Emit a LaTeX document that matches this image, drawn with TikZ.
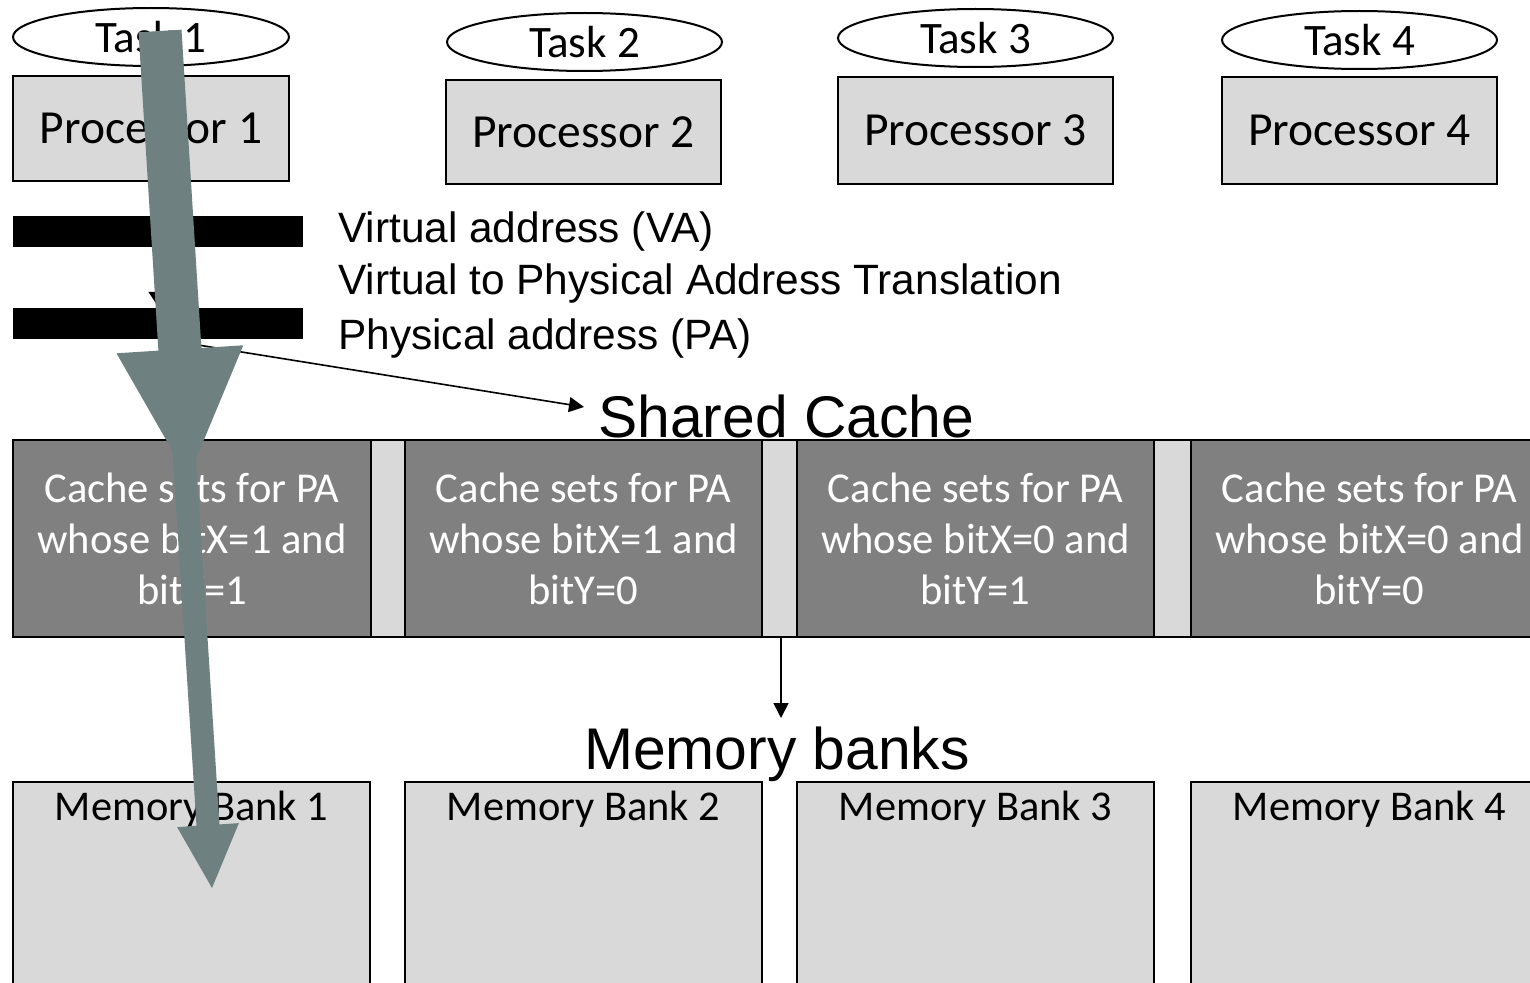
\documentclass[tikz,border=0pt]{standalone}
\usepackage{fontspec}
\setmainfont{Carlito}
\newfontfamily\arialf{Liberation Sans}
\usetikzlibrary{shapes.geometric,arrows.meta}
\definecolor{lgray}{HTML}{D9D9D9}
\definecolor{dgray}{HTML}{808080}
\definecolor{slate}{HTML}{6F8081}
\begin{document}
\begin{tikzpicture}[x=1pt,y=-1pt,
  task/.style={ellipse,draw,line width=2pt,minimum width=276pt,minimum height=58pt,inner sep=0pt,font=\fontsize{45}{54}\selectfont},
  proc/.style={rectangle,draw,line width=2pt,fill=lgray,minimum width=275pt,inner sep=0pt,font=\fontsize{47.5}{56}\selectfont},
  bar/.style={rectangle,fill=black,minimum width=290pt,minimum height=31pt,inner sep=0pt},
  atext/.style={anchor=west,inner sep=0pt,font=\arialf\fontsize{42.4}{50}\selectfont},
  btext/.style={anchor=west,inner sep=0pt,font=\arialf\fontsize{58.8}{68}\selectfont},
  cset/.style={rectangle,draw,line width=2pt,fill=dgray,text=white,minimum width=357pt,minimum height=197pt,inner sep=0pt,align=center,font=\fontsize{42.6}{51}\selectfont},
  cgap/.style={rectangle,draw,line width=2pt,fill=lgray,minimum height=197pt,inner sep=0pt},
  mbank/.style={rectangle,draw,line width=2pt,fill=lgray,minimum width=357pt,minimum height=240pt,inner sep=0pt},
  mblab/.style={font=\fontsize{42.4}{50}\selectfont,anchor=center,yshift=-28pt},
  thin/.style={line width=1.6pt,-{Triangle[length=15pt,width=15pt]}},
  bigarrow/.style={fill=slate,draw=none}
]
\useasboundingbox (0,0) rectangle (1530,982);

% tasks
\node[task] (t1) at (151,37) {Task 1};
\node[task,minimum width=275pt] (t2) at (584.5,42) {Task 2};
\node[task,minimum width=275pt] (t3) at (975.5,38) {Task 3};
\node[task,minimum width=275pt] (t4) at (1359.5,40) {Task 4};

% processors
\node[proc,minimum width=276pt,minimum height=105pt] (p1) at (151,128.5) {Processor 1};
\node[proc,minimum height=104pt] (p2) at (583.5,132) {Processor 2};
\node[proc,minimum height=107pt] (p3) at (975.5,130.5) {Processor 3};
\node[proc,minimum height=107pt] (p4) at (1359.5,130.5) {Processor 4};

% address bars
\node[bar] (bar1) at (158,231.5) {};
\node[bar] (bar2) at (158,323.5) {};
\node[atext] (va) at (338,232) {Virtual address (VA)};
\node[atext] (vt) at (338,284) {Virtual to Physical Address Translation};
\node[atext] (pa) at (338,339) {Physical address (PA)};

% shared cache
\node[btext] (sc) at (598,416) {Shared Cache};
\coordinate (sctip) at (584,407);
\node[cset,minimum width=358pt] (c1) at (192,538.5) {Cache sets for PA\\whose bitX=1 and\\bitY=1};
\node[cgap,minimum width=34pt] (g1) at (388,538.5) {};
\node[cset] (c2) at (583.5,538.5) {Cache sets for PA\\whose bitX=1 and\\bitY=0};
\node[cgap,minimum width=35pt] (g2) at (779.5,538.5) {};
\node[cset] (c3) at (975.5,538.5) {Cache sets for PA\\whose bitX=0 and\\bitY=1};
\node[cgap,minimum width=37pt] (g3) at (1172.5,538.5) {};
\node[cset] (c4) at (1369.5,538.5) {Cache sets for PA\\whose bitX=0 and\\bitY=0};

% memory banks
\node[btext] (mb) at (584,754) {Memory banks};
\coordinate (mbtip) at (781,718);
\node[mbank] (m1) at (191.5,902) {};
\node[mblab] at (m1.north) {Memory Bank 1};
\node[mbank] (m2) at (583.5,902) {};
\node[mblab] at (m2.north) {Memory Bank 2};
\node[mbank] (m3) at (975.5,902) {};
\node[mblab] at (m3.north) {Memory Bank 3};
\node[mbank] (m4) at (1369.5,902) {};
\node[mblab] at (m4.north) {Memory Bank 4};

% thin connectors
\draw[line width=1.6pt,-{Triangle[length=16pt,width=21pt]}] ([xshift=1pt]bar1.south) -- ([xshift=1pt]bar2.north);
\draw[thin] ([xshift=4pt]bar2.south) -- (sctip);
\draw[thin] ([xshift=1.5pt]g2.south) -- (mbtip);

% big slate arrows
\fill[bigarrow] (170.5,420.7) -- (193.5,419.3) -- (219.5,824.4) -- (238.9,823.1)
  -- (212,888) -- (177.1,827.1) -- (196.5,825.8) -- cycle;
\fill[bigarrow] (138.5,32.3) -- (181.5,29.7) -- (201.4,348.0) -- (243.3,345.3)
  -- (188,478) -- (116.5,353.3) -- (158.4,350.6) -- cycle;
\end{tikzpicture}
\end{document}
